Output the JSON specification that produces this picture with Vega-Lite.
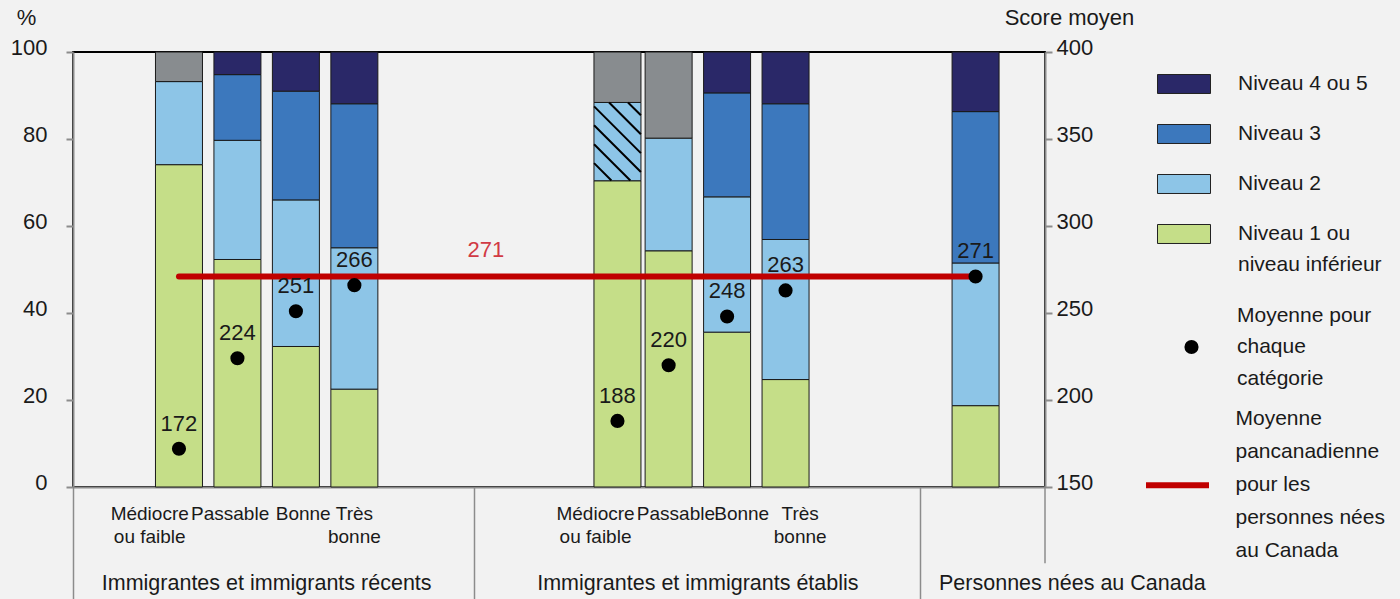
{
  "$schema": "https://vega.github.io/schema/vega-lite/v6.json",
  "width": 972,
  "height": 435,
  "autosize": {"type": "none"},
  "padding": {"left": 73, "top": 52, "right": 355, "bottom": 112},
  "background": "#f2f2f2",
  "datasets": {
    "barres": [
      {"cat": "R1", "lvl": 1, "niveau": "Niveau 1 ou niveau inférieur", "pct": 74.1},
      {"cat": "R1", "lvl": 2, "niveau": "Niveau 2", "pct": 19.1},
      {"cat": "R1", "lvl": 5, "niveau": "Données supprimées", "pct": 6.8},
      {"cat": "R2", "lvl": 1, "niveau": "Niveau 1 ou niveau inférieur", "pct": 52.3},
      {"cat": "R2", "lvl": 2, "niveau": "Niveau 2", "pct": 27.4},
      {"cat": "R2", "lvl": 3, "niveau": "Niveau 3", "pct": 15.1},
      {"cat": "R2", "lvl": 4, "niveau": "Niveau 4 ou 5", "pct": 5.2},
      {"cat": "R3", "lvl": 1, "niveau": "Niveau 1 ou niveau inférieur", "pct": 32.3},
      {"cat": "R3", "lvl": 2, "niveau": "Niveau 2", "pct": 33.7},
      {"cat": "R3", "lvl": 3, "niveau": "Niveau 3", "pct": 25.0},
      {"cat": "R3", "lvl": 4, "niveau": "Niveau 4 ou 5", "pct": 9.0},
      {"cat": "R4", "lvl": 1, "niveau": "Niveau 1 ou niveau inférieur", "pct": 22.5},
      {"cat": "R4", "lvl": 2, "niveau": "Niveau 2", "pct": 32.5},
      {"cat": "R4", "lvl": 3, "niveau": "Niveau 3", "pct": 33.1},
      {"cat": "R4", "lvl": 4, "niveau": "Niveau 4 ou 5", "pct": 11.9},
      {"cat": "E1", "lvl": 1, "niveau": "Niveau 1 ou niveau inférieur", "pct": 70.4},
      {"cat": "E1", "lvl": 2, "niveau": "Niveau 2", "pct": 18.0},
      {"cat": "E1", "lvl": 5, "niveau": "Données supprimées", "pct": 11.6},
      {"cat": "E2", "lvl": 1, "niveau": "Niveau 1 ou niveau inférieur", "pct": 54.3},
      {"cat": "E2", "lvl": 2, "niveau": "Niveau 2", "pct": 25.9},
      {"cat": "E2", "lvl": 5, "niveau": "Données supprimées", "pct": 19.8},
      {"cat": "E3", "lvl": 1, "niveau": "Niveau 1 ou niveau inférieur", "pct": 35.6},
      {"cat": "E3", "lvl": 2, "niveau": "Niveau 2", "pct": 31.1},
      {"cat": "E3", "lvl": 3, "niveau": "Niveau 3", "pct": 23.9},
      {"cat": "E3", "lvl": 4, "niveau": "Niveau 4 ou 5", "pct": 9.4},
      {"cat": "E4", "lvl": 1, "niveau": "Niveau 1 ou niveau inférieur", "pct": 24.7},
      {"cat": "E4", "lvl": 2, "niveau": "Niveau 2", "pct": 32.2},
      {"cat": "E4", "lvl": 3, "niveau": "Niveau 3", "pct": 31.2},
      {"cat": "E4", "lvl": 4, "niveau": "Niveau 4 ou 5", "pct": 11.9},
      {"cat": "C", "lvl": 1, "niveau": "Niveau 1 ou niveau inférieur", "pct": 18.7},
      {"cat": "C", "lvl": 2, "niveau": "Niveau 2", "pct": 32.8},
      {"cat": "C", "lvl": 3, "niveau": "Niveau 3", "pct": 34.8},
      {"cat": "C", "lvl": 4, "niveau": "Niveau 4 ou 5", "pct": 13.7}
    ],
    "moyennes": [
      {"cat": "R1", "score": 172},
      {"cat": "R2", "score": 224},
      {"cat": "R3", "score": 251},
      {"cat": "R4", "score": 266},
      {"cat": "E1", "score": 188},
      {"cat": "E2", "score": 220},
      {"cat": "E3", "score": 248},
      {"cat": "E4", "score": 263},
      {"cat": "C", "score": 271}
    ],
    "canada": [
      {"moyenne": 271}
    ]
  },
  "layer": [
    {
      "data": {"name": "barres"},
      "layer": [
        {
          "mark": {"type": "bar", "width": 47, "stroke": "#1a1a1a", "strokeWidth": 1, "opacity": 1},
          "encoding": {
            "x": {
              "field": "cat",
              "type": "nominal",
              "scale": {
                "type": "band",
                "paddingInner": 0,
                "paddingOuter": 0,
                "domain": ["_0","_1","_2","_3","_4","_5","_6","_7","_8","_9","_10","_11","_12","_13","R1","_15","_16","_17","_18","_19","_20","_21","R2","_23","_24","_25","_26","_27","_28","_29","R3","_31","_32","_33","_34","_35","_36","_37","R4","_39","_40","_41","_42","_43","_44","_45","_46","_47","_48","_49","_50","_51","_52","_53","_54","_55","_56","_57","_58","_59","_60","_61","_62","_63","_64","_65","_66","_67","_68","_69","_70","_71","_72","_73","E1","_75","_76","_77","_78","_79","_80","E2","_82","_83","_84","_85","_86","_87","_88","E3","_90","_91","_92","_93","_94","_95","_96","E4","_98","_99","_100","_101","_102","_103","_104","_105","_106","_107","_108","_109","_110","_111","_112","_113","_114","_115","_116","_117","_118","_119","_120","_121","_122","C","_124","_125","_126","_127","_128","_129","_130","_131","_132"]
              },
              "axis": {
                "orient": "bottom",
                "title": null,
                "values": ["_10","_21","_31","R4","_71","_82","_91","_99"],
                "ticks": false,
                "domain": true,
                "domainColor": "#8c8c8c",
                "domainWidth": 2,
                "labelAngle": 0,
                "labelFontSize": 19,
                "labelLineHeight": 23,
                "labelBaseline": "alphabetic",
                "labelPadding": 32,
                "labelOverlap": false,
                "labelFlush": false,
                "labelBound": false,
                "labelLimit": 300,
                "labelColor": "#1a1a1a",
                "labelExpr": "datum.value == '_10' || datum.value == '_71' ? ['Médiocre', 'ou faible'] : datum.value == '_21' || datum.value == '_82' ? 'Passable' : datum.value == '_31' || datum.value == '_91' ? 'Bonne' : ['Très', 'bonne']"
              }
            },
            "y": {
              "field": "pct",
              "type": "quantitative",
              "stack": "zero",
              "scale": {"domain": [0, 100], "nice": false},
              "axis": {
                "orient": "left",
                "values": [0, 20, 40, 60, 80, 100],
                "grid": false,
                "title": "%",
                "titleAngle": 0,
                "titleX": -47,
                "titleY": -35,
                "titleAlign": "center",
                "titleBaseline": "middle",
                "titleFontSize": 22,
                "titleFontWeight": "normal",
                "titleColor": "#1a1a1a",
                "tickSize": 7,
                "tickWidth": 2,
                "tickColor": "#8c8c8c",
                "domainColor": "#8c8c8c",
                "domainWidth": 2,
                "labelFontSize": 22,
                "labelPadding": 19,
                "labelOffset": -5,
                "labelFlush": false,
                "labelColor": "#1a1a1a"
              }
            },
            "fill": {
              "field": "niveau",
              "type": "nominal",
              "scale": {
                "domain": ["Niveau 4 ou 5", "Niveau 3", "Niveau 2", "Niveau 1 ou niveau inférieur", "Données supprimées"],
                "range": ["#2a2868", "#3c78bd", "#8dc5e7", "#c5de88", "#888c8f"]
              },
              "legend": {
                "orient": "none",
                "legendX": 1084,
                "legendY": 5,
                "title": null,
                "padding": 0,
                "values": ["Niveau 4 ou 5", "Niveau 3", "Niveau 2", "Niveau 1 ou niveau inférieur"],
                "symbolType": "M-1,-0.358H1V0.358H-1Z",
                "symbolSize": 2809,
                "symbolStrokeColor": "#222222",
                "symbolStrokeWidth": 1,
                "symbolOpacity": 1,
                "labelOffset": 27,
                "labelFontSize": 21,
                "labelColor": "#1a1a1a",
                "labelLimit": 300,
                "rowPadding": 11,
                "labelExpr": "datum.label == 'Niveau 1 ou niveau inférieur' ? ['Niveau 1 ou', 'niveau inférieur'] : datum.label"
              }
            },
            "order": {"field": "lvl", "type": "quantitative"}
          }
        },
        {
          "transform": [
            {"stack": "pct", "groupby": ["cat"], "sort": [{"field": "lvl", "order": "ascending"}], "as": ["p0", "p1"]},
            {"filter": "datum.cat == 'E1' && datum.lvl == 2"}
          ],
          "mark": {
            "type": "point",
            "shape": "M0.27,0L0.6,0.33M-0.215,0L0.6,0.815M-0.6,0.1L0.6,1.3M-0.6,0.585L0.6,1.785M-0.6,1.07L0.33,2M-0.6,1.555L-0.155,2",
            "size": 6084,
            "filled": false,
            "stroke": "#000000",
            "strokeWidth": 2,
            "opacity": 1
          },
          "encoding": {
            "x": {"field": "cat", "type": "nominal"},
            "y": {"field": "p1", "type": "quantitative"}
          }
        },
        {
          "data": {"values": [{}]},
          "mark": {"type": "rule", "stroke": "#8c8c8c", "strokeWidth": 1.5},
          "encoding": {
            "x": {"datum": "_132", "type": "nominal", "bandPosition": 1},
            "y": {"datum": 0, "type": "quantitative"},
            "y2": {"datum": -17.5}
          }
        }
      ]
    },
    {
      "layer": [
        {
          "data": {"name": "canada"},
          "mark": {"type": "rule", "strokeWidth": 6, "strokeCap": "round"},
          "encoding": {
            "x": {"datum": "R1", "type": "nominal"},
            "x2": {"datum": "C"},
            "y": {"field": "moyenne", "type": "quantitative"},
            "stroke": {
              "datum": "Moyenne pancanadienne pour les personnes nées au Canada",
              "type": "nominal",
              "scale": {
                "domain": ["l1", "l2", "Moyenne pancanadienne pour les personnes nées au Canada", "l4", "l5"],
                "range": ["rgba(0,0,0,0)", "rgba(0,0,0,0)", "#c00000", "rgba(0,0,0,0)", "rgba(0,0,0,0)"]
              },
              "legend": {
                "orient": "none",
                "legendX": 1070,
                "legendY": 351,
                "title": null,
                "padding": 0,
                "values": ["l1", "l2", "Moyenne pancanadienne pour les personnes nées au Canada", "l4", "l5"],
                "symbolType": "stroke",
                "symbolSize": 3969,
                "symbolStrokeWidth": 6,
                "clipHeight": 32.3,
                "labelOffset": 23.5,
                "labelFontSize": 21,
                "labelColor": "#1a1a1a",
                "labelLimit": 300,
                "rowPadding": 0,
                "labelExpr": "datum.value == 'l1' ? 'Moyenne' : datum.value == 'l2' ? 'pancanadienne' : datum.value == 'l4' ? 'personnes nées' : datum.value == 'l5' ? 'au Canada' : 'pour les'"
              }
            }
          }
        },
        {
          "data": {"name": "moyennes"},
          "mark": {"type": "point", "filled": true, "size": 200, "color": "#000000", "opacity": 1},
          "encoding": {
            "x": {
              "field": "cat",
              "type": "nominal",
              "axis": {
                "orient": "bottom",
                "title": null,
                "bandPosition": 0,
                "values": ["_0", "_26", "_55", "_85", "_116", "_118"],
                "domain": false,
                "ticks": true,
                "tickSize": 112,
                "tickWidth": 1.5,
                "tickColor": "#8c8c8c",
                "tickOpacity": {"condition": {"test": "indexof(['_0','_55','_116'], datum.value) >= 0", "value": 1}, "value": 0},
                "labelExpr": "datum.value == '_26' ? 'Immigrantes et immigrants récents' : datum.value == '_85' ? 'Immigrantes et immigrants établis' : datum.value == '_118' ? 'Personnes nées au Canada' : ''",
                "labelAlign": {"condition": {"test": "datum.value == '_118'", "value": "left"}, "value": "center"},
                "labelFontSize": 21.5,
                "labelBaseline": "alphabetic",
                "labelPadding": -10,
                "labelAngle": 0,
                "labelOverlap": false,
                "labelFlush": false,
                "labelBound": false,
                "labelLimit": 600,
                "labelColor": "#1a1a1a"
              }
            },
            "y": {
              "field": "score",
              "type": "quantitative",
              "scale": {"domain": [150, 400], "nice": false, "zero": false},
              "axis": {
                "orient": "right",
                "values": [150, 200, 250, 300, 350, 400],
                "grid": false,
                "title": "Score moyen",
                "titleAngle": 0,
                "titleX": 24,
                "titleY": -35,
                "titleAlign": "center",
                "titleBaseline": "middle",
                "titleFontSize": 22,
                "titleFontWeight": "normal",
                "titleColor": "#1a1a1a",
                "tickSize": 7,
                "tickWidth": 2,
                "tickColor": "#8c8c8c",
                "domainColor": "#8c8c8c",
                "domainWidth": 2,
                "labelFontSize": 22,
                "labelPadding": 4,
                "labelOffset": -5,
                "labelFlush": false,
                "labelColor": "#1a1a1a"
              }
            },
            "shape": {
              "datum": "Moyenne pour chaque catégorie",
              "type": "nominal",
              "scale": {
                "domain": ["m1", "Moyenne pour chaque catégorie", "m3"],
                "range": ["M0,0", "circle", "M0,0"]
              },
              "legend": {
                "orient": "none",
                "legendX": 1108,
                "legendY": 253,
                "title": null,
                "padding": 0,
                "values": ["m1", "Moyenne pour chaque catégorie", "m3"],
                "symbolFillColor": "#000000",
                "symbolStrokeWidth": 0,
                "symbolSize": 200,
                "symbolOpacity": 1,
                "labelOffset": 35,
                "labelFontSize": 21,
                "labelColor": "#1a1a1a",
                "labelLimit": 300,
                "rowPadding": 9.5,
                "labelExpr": "datum.value == 'm1' ? 'Moyenne pour' : datum.value == 'm3' ? 'catégorie' : 'chaque'"
              }
            }
          }
        },
        {
          "data": {"name": "moyennes"},
          "mark": {"type": "text", "fontSize": 22, "dy": -18, "baseline": "alphabetic", "color": "#1a1a1a"},
          "encoding": {
            "x": {"field": "cat", "type": "nominal"},
            "y": {"field": "score", "type": "quantitative"},
            "text": {"field": "score", "type": "quantitative"}
          }
        },
        {
          "data": {"name": "canada"},
          "mark": {"type": "text", "fontSize": 22, "dy": -26, "baseline": "middle", "color": "#d13a44"},
          "encoding": {
            "x": {"datum": "_56", "type": "nominal"},
            "y": {"field": "moyenne", "type": "quantitative"},
            "text": {"field": "moyenne", "type": "quantitative"}
          }
        }
      ]
    }
  ],
  "resolve": {"scale": {"y": "independent"}, "axis": {"x": "independent"}},
  "config": {
    "font": "Liberation Sans",
    "view": {"stroke": "#000000", "strokeWidth": 2, "fill": "#f2f2f2"},
    "axis": {"grid": false},
    "style": {"guide-label": {"lineHeight": 31}}
  }
}
